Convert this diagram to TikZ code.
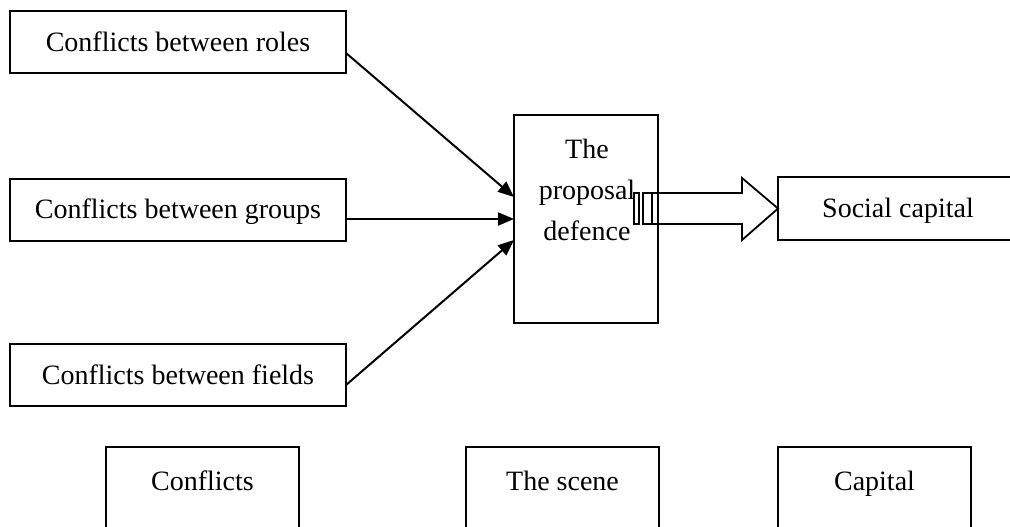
\documentclass[tikz,border=0pt]{standalone}
\usepackage{fontspec}
\setmainfont{Liberation Serif}
\usetikzlibrary{arrows.meta,calc}
\begin{document}
\begin{tikzpicture}[x=0.5pt,y=-0.5pt,
  every node/.style={font=\fontsize{14pt}{20.6pt}\selectfont, inner sep=0pt, outer sep=0pt},
  box/.style={draw, line width=1pt, minimum width=168pt, minimum height=31pt, text height=9.3pt, text depth=0pt},
  bigbox/.style={draw, line width=1pt, minimum width=96.5pt, minimum height=70pt},
  plain/.style={},
  conn/.style={line width=1pt, -{Triangle[length=8pt,width=6.5pt]}},
  slot/.style={draw, line width=0.9pt, minimum height=15.5pt}
]
\path[use as bounding box, clip] (0,0) rectangle (1010,526);
\fill[white] (0,0) rectangle (1010,526);

\node[box] (roles) at (178,42) {Conflicts between roles};
\node[box] (groups) at (178,209.5) {Conflicts between groups};
\node[box] (fields) at (178,375) {Conflicts between fields};

\node[draw, line width=1pt, minimum width=72pt, minimum height=104pt] (scene) at (586,219) {};
\node[plain, align=center] (proptext) at (587,190) {The\\proposal\\defence};

\node[slot, minimum width=2.5pt] (s1) at (636.5,208.5) {};
\node[slot, minimum width=4.5pt] (s2) at (647.5,208.5) {};

\node[box, minimum width=120pt, minimum height=31.5pt] (social) at (898,208.5) {Social capital};

\draw[line width=0.9pt, line join=miter]
  (s2.east |- 0,193) -- (742,193) -- (742,178) -- (social.west) -- (742,240) -- (742,224) -- (s2.east |- 0,224);

\coordinate (r1) at (346,53);
\coordinate (r2) at (346,219);
\coordinate (r3) at (346,385);
\draw[conn] (r1) -- (scene.west |- 0,197);
\draw[conn] (r2) -- (scene.west |- 0,219);
\draw[conn] (r3) -- (scene.west |- 0,240);

\node[bigbox, anchor=north] (bconf) at (202.5,447) {};
\node[plain, anchor=base] (bconft) at (202.5,490) {Conflicts};
\node[bigbox, anchor=north] (bscene) at (562.5,447) {};
\node[plain, anchor=base] (bscenet) at (562.5,490) {The scene};
\node[bigbox, anchor=north] (bcap) at (874.5,447) {};
\node[plain, anchor=base] (bcapt) at (874.5,490) {Capital};
\end{tikzpicture}
\end{document}
